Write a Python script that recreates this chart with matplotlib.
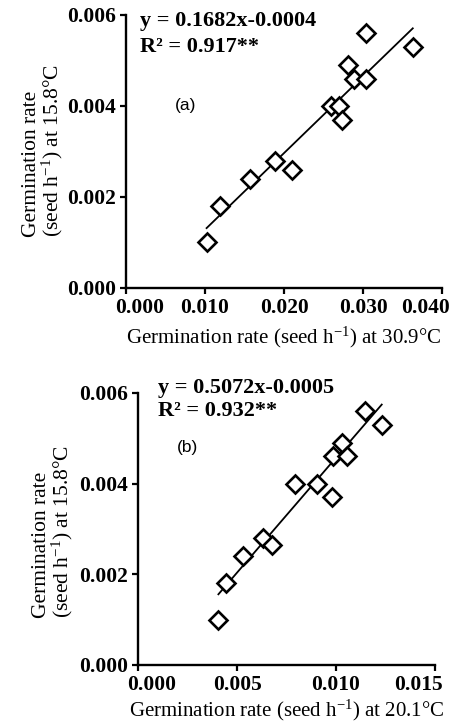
#!/usr/bin/env python3
"""
Germination rate at 15.8 C vs germination rate at 30.9 C and 20.1 C
"""

import matplotlib.pyplot as plt
from matplotlib.transforms import ScaledTranslation

SERIF = ['Liberation Serif', 'DejaVu Serif']
SANS = ['Liberation Sans', 'DejaVu Sans']

# superscripts through mathtext, drawn in the same serif face
plt.rcParams['mathtext.fontset'] = 'custom'
plt.rcParams['mathtext.rm'] = 'Liberation Serif'
plt.rcParams['mathtext.it'] = 'Liberation Serif:italic'
plt.rcParams['mathtext.bf'] = 'Liberation Serif:bold'

# Panel (a): rates at 30.9 C vs 15.8 C
x_a = [0.0102, 0.0119, 0.0157, 0.0189, 0.0210, 0.0260, 0.0270,
       0.0273, 0.0281, 0.0289, 0.0304, 0.0304, 0.0363]
y_a = [0.0010, 0.0018, 0.0024, 0.0028, 0.0026, 0.0040, 0.0040,
       0.0037, 0.0049, 0.0046, 0.0046, 0.0056, 0.0053]
fit_a = (0.1682, -0.0004)

# Panel (b): rates at 20.1 C vs 15.8 C
x_b = [0.00406, 0.00444, 0.00529, 0.00633, 0.00675, 0.00793, 0.00903,
       0.00978, 0.00983, 0.01029, 0.01054, 0.01146, 0.01231]
y_b = [0.0010, 0.0018, 0.0024, 0.0028, 0.00265, 0.0040, 0.0040,
       0.0037, 0.0046, 0.0049, 0.0046, 0.0056, 0.0053]
fit_b = (0.5072, -0.0005)

yticks = [0.000, 0.002, 0.004, 0.006]
xticks_a = [0.000, 0.010, 0.020, 0.030, 0.040]
xticks_b = [0.000, 0.005, 0.010, 0.015]

fig = plt.figure(figsize=(4.59, 7.25), dpi=100)
ax1 = fig.add_axes([0.2745, 0.6028, 0.6885, 0.3766])
ax2 = fig.add_axes([0.3007, 0.0828, 0.6470, 0.3752])


def style_panel(ax, xs, ys, fit, xticks, xlabel, eq, r2, tag,
                eq_pos, r2_pos, tag_pos, ylab_x, ylab_y, xlab_pad):
    slope, icpt = fit
    x0, x1 = min(xs), max(xs)
    ax.plot([x0, x1], [slope * x0 + icpt, slope * x1 + icpt],
            color='black', lw=1.3, zorder=2)
    ax.plot(xs, ys, linestyle='none', marker='D', markersize=9,
            markerfacecolor='white', markeredgecolor='black',
            markeredgewidth=1.9, clip_on=False, zorder=3)

    ax.set_xlim(xticks[0], xticks[-1])
    ax.set_ylim(0, 0.006)
    ax.set_xticks(xticks)
    ax.set_yticks(yticks)
    ax.set_xticklabels([f'{v:.3f}' for v in xticks])
    ax.set_yticklabels([f'{v:.3f}' for v in yticks])

    for s in ['top', 'right']:
        ax.spines[s].set_visible(False)
    for s in ['left', 'bottom']:
        ax.spines[s].set_linewidth(1.7)
    ax.tick_params(direction='out', length=4, width=1.6, pad=3)
    for lab in ax.get_xticklabels() + ax.get_yticklabels():
        lab.set_family(SERIF)
        lab.set_fontweight('bold')
        lab.set_fontsize(15.5)

    # first and last x tick labels are nudged inward in the original
    xl = ax.get_xticklabels()
    xl[0].set_transform(xl[0].get_transform() +
                        ScaledTranslation(10 / 72, 0, fig.dpi_scale_trans))
    xl[-1].set_transform(xl[-1].get_transform() +
                         ScaledTranslation(-12 / 72, 0, fig.dpi_scale_trans))

    ax.set_xlabel(xlabel, family=SERIF, fontsize=15, labelpad=xlab_pad)
    ax.text(ylab_x, ylab_y, 'Germination rate\n(seed h$^{-1}$) at 15.8\u00b0C',
            transform=ax.transAxes, rotation=90, ha='center', va='bottom',
            multialignment='left', family=SERIF, fontsize=15.5, linespacing=0.95)

    ax.text(eq_pos[0], eq_pos[1], eq, transform=ax.transAxes, family=SERIF,
            fontweight='bold', fontsize=16, ha='left', va='center')
    ax.text(r2_pos[0], r2_pos[1], r2, transform=ax.transAxes, family=SERIF,
            fontweight='bold', fontsize=16, ha='left', va='center')
    ax.text(tag_pos[0], tag_pos[1], tag, transform=ax.transAxes, family=SANS,
            fontsize=12.5, ha='left', va='center')


style_panel(ax1, x_a, y_a, fit_a, xticks_a,
            'Germination rate (seed h$^{-1}$) at 30.9\u00b0C',
            'y = 0.1682x-0.0004', 'R\u00b2 = 0.917**', '(a)',
            (0.044, 0.976), (0.044, 0.884), (0.155, 0.667),
            -0.262, 0.186, 5)

style_panel(ax2, x_b, y_b, fit_b, xticks_b,
            'Germination rate (seed h$^{-1}$) at 20.1\u00b0C',
            'y = 0.5072x-0.0005', 'R\u00b2 = 0.932**', '(b)',
            (0.067, 1.020), (0.067, 0.935), (0.131, 0.798),
            -0.285, 0.173, 2)

plt.savefig('out.png', dpi=100)
